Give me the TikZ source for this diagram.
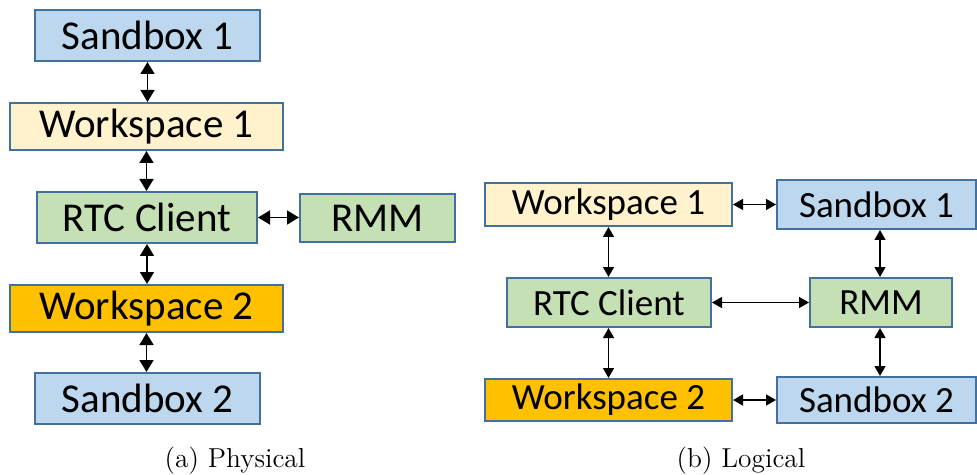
\documentclass[tikz,border=0pt]{standalone}
\usepackage{fontspec}
\newfontfamily\boxfont{Carlito}
\usetikzlibrary{arrows.meta}

\definecolor{edgeblue}{HTML}{41719C}
\definecolor{sandfill}{HTML}{BDD7EE}
\definecolor{wsonefill}{HTML}{FFF2CC}
\definecolor{wstwofill}{HTML}{FFC000}
\definecolor{greenfill}{HTML}{C5E0B4}

\tikzset{
  unitbox/.style={draw=edgeblue, line width=1pt, inner sep=0pt, align=center},
  bigtext/.style={font=\boxfont\fontsize{20.5}{24}\selectfont},
  smalltext/.style={font=\boxfont\fontsize{18.5}{22}\selectfont},
  sandbox/.style={unitbox, fill=sandfill},
  wsone/.style={unitbox, fill=wsonefill},
  wstwo/.style={unitbox, fill=wstwofill},
  greenbox/.style={unitbox, fill=greenfill},
  bigarrow/.style={{Triangle[length=6pt,width=7pt]}-{Triangle[length=6pt,width=7pt]}, line width=0.8pt},
  smallarrow/.style={{Triangle[length=5pt,width=5.5pt]}-{Triangle[length=5pt,width=5.5pt]}, line width=0.7pt},
  captiontext/.style={font=\fontsize{13.7}{16}\selectfont, inner sep=0pt}
}

\begin{document}
\begin{tikzpicture}[x=0.5pt, y=-0.5pt]
\useasboundingbox (0,0) rectangle (977,475);

% (a) physical stack
\node[sandbox, bigtext, minimum width=112.5pt, minimum height=25.5pt] (psb1) at (147.5,35.5) {Sandbox 1};
\node[wsone, bigtext, minimum width=136.5pt, minimum height=23.5pt] (pws1) at (146.5,126.5) {Workspace 1};
\node[greenbox, bigtext, minimum width=110pt, minimum height=25.5pt] (prtc) at (147,217.5) {RTC Client};
\node[greenbox, bigtext, minimum width=77.5pt, minimum height=24pt] (prmm) at (377.5,218) {RMM};
\node[wstwo, bigtext, minimum width=136.5pt, minimum height=23.5pt] (pws2) at (146.5,308.5) {Workspace 2};
\node[sandbox, bigtext, minimum width=112.5pt, minimum height=25.5pt] (psb2) at (147.5,398.5) {Sandbox 2};

\draw[bigarrow] (psb1.south) -- (psb1.south |- pws1.north);
\draw[bigarrow] (pws1.south) -- (pws1.south |- prtc.north);
\draw[bigarrow] (prtc.south) -- (prtc.south |- pws2.north);
\draw[bigarrow] (pws2.south) -- (pws2.south |- psb2.north);
\draw[bigarrow] (prtc.east) -- (prmm.west |- prtc.east);

% (b) logical layout
\node[wsone, smalltext, minimum width=123.5pt, minimum height=21.5pt] (lws1) at (608.5,204.5) {Workspace 1};
\node[sandbox, smalltext, minimum width=99.5pt, minimum height=24.5pt] (lsb1) at (876.5,204.5) {Sandbox 1};
\node[greenbox, smalltext, minimum width=102pt, minimum height=24.5pt] (lrtc) at (609,302.5) {RTC Client};
\node[greenbox, smalltext, minimum width=71pt, minimum height=24.5pt] (lrmm) at (881,302.5) {RMM};
\node[wstwo, smalltext, minimum width=123.5pt, minimum height=21pt] (lws2) at (608.5,400) {Workspace 2};
\node[sandbox, smalltext, minimum width=99.5pt, minimum height=23pt] (lsb2) at (876.5,400) {Sandbox 2};

\draw[smallarrow] (lws1.east) -- (lsb1.west |- lws1.east);
\draw[smallarrow] (lws2.east) -- (lsb2.west |- lws2.east);
\draw[smallarrow] (lws1.south) -- (lws1.south |- lrtc.north);
\draw[smallarrow] (lws1.south |- lrtc.south) -- (lws1.south |- lws2.north);
\draw[smallarrow] (lrmm.north -| 880,0) -- (880,0 |- lsb1.south);
\draw[smallarrow] (lrmm.south -| 880,0) -- (880,0 |- lsb2.north);
\draw[smallarrow] (lrtc.east) -- (lrmm.west);

% captions
\node[captiontext] (capa) at (235,461) {(a) Physical};
\node[captiontext] (capb) at (741,461) {(b) Logical};
\end{tikzpicture}
\end{document}
